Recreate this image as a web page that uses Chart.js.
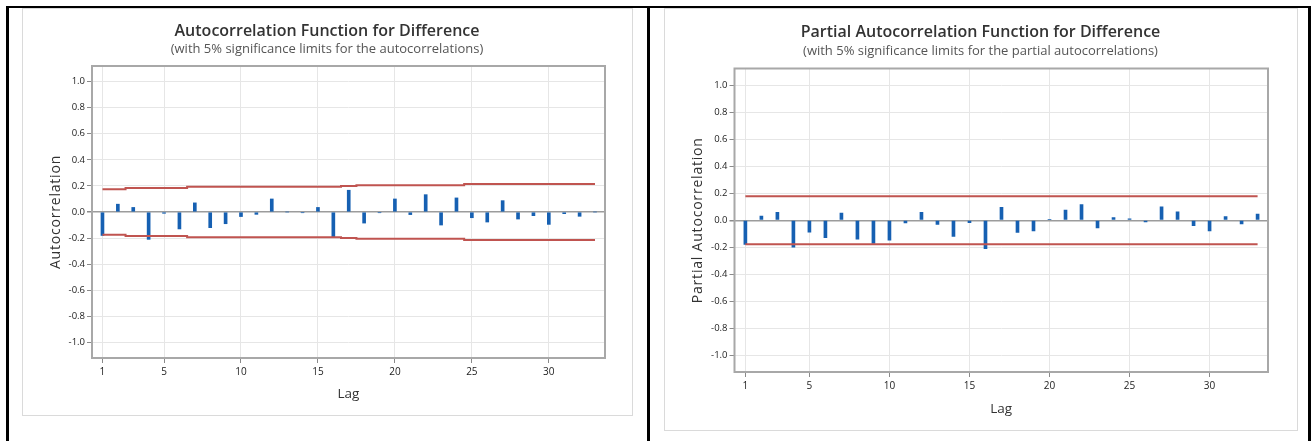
<!DOCTYPE html>
<html>
<head>
<meta charset="utf-8">
<title>ACF and PACF for Difference</title>
<script src="https://cdn.jsdelivr.net/npm/chart.js@4.4.1/dist/chart.umd.min.js"></script>
<style>
    body { margin: 0; background: #fff; width: 1315px; height: 441px; position: relative; overflow: hidden; }
    .rule { position: absolute; background: #000; }
    .frame { position: absolute; border: 1px solid #dadada; box-sizing: border-box; }
    .holder { position: absolute; }
</style>
</head>
<body>
<!-- black table borders -->
<div class="rule" style="left:6px;top:6px;width:1305px;height:2px"></div>
<div class="rule" style="left:6px;top:6px;width:3px;height:435px"></div>
<div class="rule" style="left:647px;top:6px;width:3px;height:435px"></div>
<div class="rule" style="left:1308px;top:6px;width:3px;height:435px"></div>

<!-- light frames round each graph -->
<div class="frame" style="left:22px;top:8px;width:611px;height:408px"></div>
<div class="frame" style="left:664px;top:8px;width:634px;height:423px"></div>

<div class="holder" style="left:22px;top:8px"><canvas id="acf-canvas" width="610" height="407"></canvas></div>
<div class="holder" style="left:664px;top:8px"><canvas id="pacf-canvas" width="633" height="422"></canvas></div>

<script>
// Lags shown on both graphs
const lags = [1, 2, 3, 4, 5, 6, 7, 8, 9, 10, 11, 12, 13, 14, 15, 16, 17,
              18, 19, 20, 21, 22, 23, 24, 25, 26, 27, 28, 29, 30, 31, 32, 33];

// Autocorrelations
const acfValues = [-0.18, 0.06, 0.035, -0.21, -0.01, -0.13, 0.07, -0.12, -0.09, -0.035, -0.018,
                   0.10, 0.0, -0.005, 0.035, -0.195, 0.167, -0.085, -0.005, 0.10, -0.02, 0.133,
                   -0.10, 0.108, -0.044, -0.077, 0.087, -0.054, -0.028, -0.095, -0.013, -0.033, 0.0];

// 5% significance limits for the autocorrelations (upper side, lower is the negative)
const acfLimits = [0.175, 0.175, 0.184, 0.184, 0.184, 0.184, 0.193, 0.193, 0.193, 0.193, 0.193,
                   0.193, 0.193, 0.193, 0.193, 0.193, 0.199, 0.206, 0.206, 0.206, 0.206, 0.206,
                   0.206, 0.206, 0.215, 0.215, 0.215, 0.215, 0.215, 0.215, 0.215, 0.215, 0.215];

// Partial autocorrelations
const pacfValues = [-0.18, 0.03, 0.058, -0.20, -0.089, -0.13, 0.053, -0.14, -0.172, -0.147, -0.02,
                    0.058, -0.03, -0.12, -0.018, -0.21, 0.096, -0.09, -0.08, 0.005, 0.076, 0.116,
                    -0.056, 0.02, 0.01, -0.013, 0.10, 0.063, -0.04, -0.08, 0.028, -0.028, 0.045];

// 5% significance limit for the partial autocorrelations
const pacfLimits = [0.178, 0.178, 0.178, 0.178, 0.178, 0.178, 0.178, 0.178, 0.178, 0.178, 0.178,
                    0.178, 0.178, 0.178, 0.178, 0.178, 0.178, 0.178, 0.178, 0.178, 0.178, 0.178,
                    0.178, 0.178, 0.178, 0.178, 0.178, 0.178, 0.178, 0.178, 0.178, 0.178, 0.178];

// Tick labels
const lagTicks = [1, 5, 10, 15, 20, 25, 30];
const corrTicks = [-1.0, -0.8, -0.6, -0.4, -0.2, 0.0, 0.2, 0.4, 0.6, 0.8, 1.0];

const FONT = "'Open Sans', 'Noto Sans', sans-serif";
const BAR_BLUE = 'rgb(22, 96, 178)';
const LIMIT_RED = 'rgb(192, 84, 80)';

// Plugin that draws the grey box round the plot area
const plotFrame = {
    id: 'plotFrame',
    afterDatasetsDraw(chart) {
        const a = chart.chartArea;
        const ctx = chart.ctx;
        ctx.save();
        ctx.strokeStyle = '#a8a8a8';
        ctx.lineWidth = 2;
        ctx.strokeRect(a.left, a.top, a.right - a.left, a.bottom - a.top);
        ctx.restore();
    }
};

// Minitab spreads the letters of the vertical axis title a little
function spreadTitle(scale) {
    if (scale._spread) return;
    const original = scale.drawTitle.bind(scale);
    scale.drawTitle = function () {
        this.ctx.save();
        this.ctx.letterSpacing = '0.8px';
        original();
        this.ctx.restore();
    };
    scale._spread = true;
}

// Function to build one correlogram
function drawCorrelogram(canvasId, cfg) {
    const ctx = document.getElementById(canvasId).getContext('2d');

    const bars = lags.map((lag, i) => ({ x: lag, y: cfg.values[i] }));
    const upper = lags.map((lag, i) => ({ x: lag, y: cfg.limits[i] }));
    const lower = lags.map((lag, i) => ({ x: lag, y: -cfg.limits[i] }));

    const limitStyle = {
        type: 'line',
        borderColor: LIMIT_RED,
        borderWidth: 2,
        pointRadius: 0,
        stepped: 'middle',
        fill: false,
        order: 0
    };

    return new Chart(ctx, {
        type: 'bar',
        data: {
            datasets: [
                { data: bars, backgroundColor: BAR_BLUE, barThickness: 3, order: 1 },
                Object.assign({ data: upper }, limitStyle),
                Object.assign({ data: lower }, limitStyle)
            ]
        },
        options: {
            responsive: false,
            animation: false,
            layout: { padding: 0 },
            plugins: {
                legend: { display: false },
                tooltip: { enabled: false },
                title: {
                    display: true,
                    text: cfg.title,
                    color: '#333',
                    font: { family: FONT, size: 16, weight: '600', lineHeight: 1.2 },
                    padding: { top: cfg.titleTop, bottom: cfg.titleGap }
                },
                subtitle: {
                    display: true,
                    text: cfg.subtitle,
                    color: '#555',
                    font: { family: FONT, size: 13, lineHeight: 1.2 },
                    padding: { top: 0, bottom: cfg.subBottom }
                }
            },
            scales: {
                x: {
                    type: 'linear',
                    min: 0.32,
                    max: 33.65,
                    offset: false,
                    afterBuildTicks: s => { s.ticks = lagTicks.map(v => ({ value: v })); },
                    afterFit: s => { s.height = cfg.xHeight; },
                    ticks: { color: '#222', font: { family: FONT, size: 10 }, padding: 3, autoSkip: false, maxRotation: 0 },
                    grid: { color: '#e6e6e6', tickColor: '#8a8a8a', tickLength: 5, offset: false },
                    border: { display: false },
                    title: {
                        display: true,
                        text: 'Lag',
                        color: '#333',
                        font: { family: FONT, size: 13.5, lineHeight: 1.2 },
                        padding: { top: 0, bottom: 13 }
                    }
                },
                y: {
                    type: 'linear',
                    min: -cfg.yRange,
                    max: cfg.yRange,
                    afterBuildTicks: s => { s.ticks = corrTicks.map(v => ({ value: v })); },
                    afterFit: s => { s.width = cfg.yWidth; spreadTitle(s); },
                    ticks: {
                        color: '#222',
                        font: { family: FONT, size: 9.5 },
                        padding: 2,
                        callback: v => v.toFixed(1)
                    },
                    grid: {
                        color: c => (c.tick && c.tick.value === 0 ? '#9c9c9c' : '#e6e6e6'),
                        lineWidth: c => (c.tick && c.tick.value === 0 ? 1.5 : 1),
                        tickColor: '#8a8a8a',
                        tickLength: 5
                    },
                    border: { display: false },
                    title: {
                        display: true,
                        text: cfg.yTitle,
                        color: '#333',
                        font: { family: FONT, size: 14, lineHeight: 1.2 },
                        padding: { top: 26, bottom: 0 }
                    }
                },
                // empty axis on the right keeps the margin there, so the titles stay centred on the frame
                gap: {
                    type: 'linear',
                    position: 'right',
                    display: true,
                    afterFit: s => { s.width = cfg.padRight; },
                    ticks: { display: false },
                    grid: { display: false, drawTicks: false },
                    border: { display: false }
                }
            }
        },
        plugins: [plotFrame]
    });
}

// Left graph: autocorrelation function
drawCorrelogram('acf-canvas', {
    values: acfValues,
    limits: acfLimits,
    title: 'Autocorrelation Function for Difference',
    subtitle: '(with 5% significance limits for the autocorrelations)',
    yTitle: 'Autocorrelation',
    yRange: 1.12,
    yWidth: 70,
    xHeight: 57,
    padRight: 27,
    titleTop: 14,
    titleGap: 0.5,
    subBottom: 8.7
});

// Right graph: partial autocorrelation function
drawCorrelogram('pacf-canvas', {
    values: pacfValues,
    limits: pacfLimits,
    title: 'Partial Autocorrelation Function for Difference',
    subtitle: '(with 5% significance limits for the partial autocorrelations)',
    yTitle: 'Partial Autocorrelation',
    yRange: 1.125,
    yWidth: 70.5,
    xHeight: 58,
    padRight: 29,
    titleTop: 15,
    titleGap: 1.5,
    subBottom: 9.2
});
</script>
</body>
</html>
